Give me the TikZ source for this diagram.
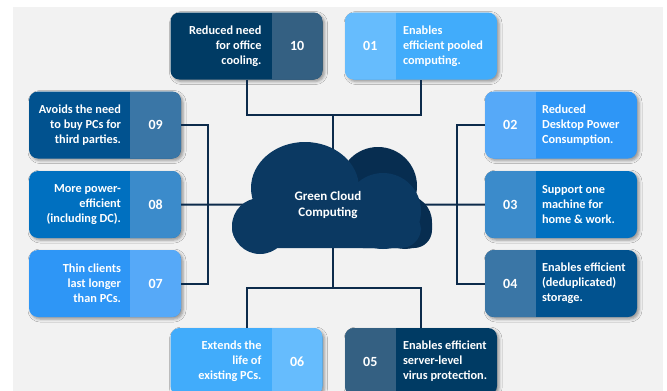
\documentclass[tikz,border=0pt]{standalone}
\usepackage{fontspec}
\setmainfont{Carlito}
\usetikzlibrary{shadows.blur}

\definecolor{panel}{HTML}{F2F2F2}
\definecolor{linkblue}{HTML}{0D2B4B}
\definecolor{cloudfront}{HTML}{0B3962}
\definecolor{cloudback}{HTML}{072D50}
\definecolor{navyA}{HTML}{003B64}
\definecolor{navyB}{HTML}{346082}
\definecolor{deepA}{HTML}{01528F}
\definecolor{deepB}{HTML}{3A76A6}
\definecolor{midA}{HTML}{0070C0}
\definecolor{midB}{HTML}{3B8BCB}
\definecolor{brightA}{HTML}{2E96F6}
\definecolor{brightB}{HTML}{56A9F8}
\definecolor{skyA}{HTML}{41ACFB}
\definecolor{skyB}{HTML}{66BCFD}

\tikzset{
  card/.style={rounded corners=9pt, minimum width=152pt, minimum height=67pt, inner sep=0pt,
    blur shadow={shadow xshift=2pt, shadow yshift=-2pt, shadow blur radius=3pt, shadow opacity=40}},
  numright/.style 2 args={card, fill=#1, path picture={\fill[#2, sharp corners]
    ([xshift=-51pt]path picture bounding box.north east) rectangle (path picture bounding box.south east);}},
  numleft/.style 2 args={card, fill=#1, path picture={\fill[#2, sharp corners]
    (path picture bounding box.north west) rectangle ([xshift=51pt]path picture bounding box.south west);}},
  txt/.style={text=white, font=\bfseries\fontsize{12.3}{15}\selectfont, inner sep=0pt},
  num/.style={text=white, font=\bfseries\fontsize{14}{16}\selectfont},
  link/.style={draw=linkblue, line width=2pt},
}

\begin{document}
\begin{tikzpicture}[x=1pt,y=-1pt]
\clip (0,0) rectangle (667,391);
% background
\fill[panel] (13,7) rectangle (663,400);

% top row
\node[numright={navyA}{navyB}] (b10) at (246.5,46) {};
\node[txt, align=right, anchor=east] (t10) at ([xshift=-61pt]b10.east) {Reduced need\\for office\\cooling.};
\node[num] (n10) at ([xshift=-25.5pt]b10.east) {10};
\node[numleft={skyA}{skyB}] (b01) at (421,46) {};
\node[txt, align=left, anchor=west] (t01) at ([xshift=58pt]b01.west) {Enables\\efficient pooled\\computing.};
\node[num] (n01) at ([xshift=25.5pt]b01.west) {01};

% left column
\node[numright={deepA}{deepB}] (b09) at (105,125) {};
\node[txt, align=right, anchor=east] (t09) at ([xshift=-60pt]b09.east) {Avoids the need\\to buy PCs for\\third parties.};
\node[num] (n09) at ([xshift=-25.5pt]b09.east) {09};
\node[numright={midA}{midB}] (b08) at (105,204.5) {};
\node[txt, align=right, anchor=east] (t08) at ([xshift=-60pt]b08.east) {More power-\\efficient\\(including DC).};
\node[num] (n08) at ([xshift=-25.5pt]b08.east) {08};
\node[numright={brightA}{brightB}] (b07) at (105,283.5) {};
\node[txt, align=right, anchor=east] (t07) at ([xshift=-60pt]b07.east) {Thin clients\\last longer\\than PCs.};
\node[num] (n07) at ([xshift=-25.5pt]b07.east) {07};

% right column
\node[numleft={brightA}{brightB}] (b02) at (561,125) {};
\node[txt, align=left, anchor=west] (t02) at ([xshift=57pt]b02.west) {Reduced\\Desktop Power\\Consumption.};
\node[num] (n02) at ([xshift=25.5pt]b02.west) {02};
\node[numleft={midA}{midB}] (b03) at (561,204.5) {};
\node[txt, align=left, anchor=west] (t03) at ([xshift=57pt]b03.west) {Support one\\machine for\\home \& work.};
\node[num] (n03) at ([xshift=25.5pt]b03.west) {03};
\node[numleft={deepA}{deepB}] (b04) at (561,283.5) {};
\node[txt, align=left, anchor=west] (t04) at ([xshift=57pt]b04.west) {Enables efficient\\(deduplicated)\\storage.};
\node[num] (n04) at ([xshift=25.5pt]b04.west) {04};

% bottom row
\node[numright={skyA}{skyB}] (b06) at (246.5,361.5) {};
\node[txt, align=right, anchor=east] (t06) at ([xshift=-61pt]b06.east) {Extends the\\life of\\existing PCs.};
\node[num] (n06) at ([xshift=-25.5pt]b06.east) {06};
\node[numleft={navyA}{navyB}] (b05) at (421,361.5) {};
\node[txt, align=left, anchor=west] (t05) at ([xshift=58pt]b05.west) {Enables efficient\\server-level\\virus protection.};
\node[num] (n05) at ([xshift=25.5pt]b05.west) {05};

% connectors
\coordinate (gc) at (333,205);
\coordinate (tj) at (333,115);
\coordinate (bj) at (333,288);
\coordinate (lj) at (208,204);
\coordinate (rj) at (457,204);
\draw[link] (b10.south) |- (tj) -| (b01.south);
\draw[link] (tj) -- (gc);
\draw[link] (b06.north) |- (bj) -| (b05.north);
\draw[link] (bj) -- (gc);
\draw[link] (b09.east) -| (lj) |- (b07.east);
\draw[link] (b08.east) -- (gc);
\draw[link] (b02.west) -| (rj) |- (b04.west);
\draw[link] (b03.west) -- (gc);

% cloud
\fill[cloudback] (378,186) circle (39);
\fill[cloudback] (405,222) circle (27);
\fill[cloudback, rounded corners=18pt] (345,205) rectangle (432,248);
\fill[cloudfront] (260,226) circle (28);
\fill[cloudfront] (305,188) ellipse (54 and 46);
\fill[cloudfront] (383,211) circle (38);
\fill[cloudfront, rounded corners=20pt] (232,210) rectangle (421,248);
\node[text=white, font=\bfseries\fontsize{13}{16}\selectfont, align=center] (gct) at (328,205) {Green Cloud\\Computing};
\end{tikzpicture}
\end{document}
